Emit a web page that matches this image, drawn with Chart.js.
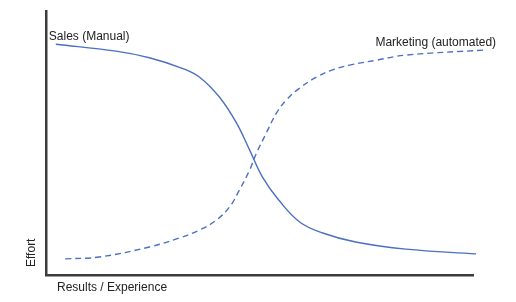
<!DOCTYPE html>
<html lang="en">
<head>
  <meta charset="UTF-8">
  <title>Sales vs Marketing Effort</title>
  <script src="https://cdn.jsdelivr.net/npm/chart.js"></script>
  <style>
    body {
      margin: 0;
      background: #fff;
    }
    .container {
      width: 516px;
      height: 302px;
    }
  </style>
</head>
<body>
  <div class="container">
    <canvas id="effortChart"></canvas>
  </div>

  <script>
    // results / experience (x) vs effort (y), both on a 0-100 scale
    const salesX = [2.3, 16.4, 24.2, 31.9, 35.9, 40.6, 44.6, 47.7, 50.7, 54.5, 59.4, 64.8, 72.5, 84.3, 100.7];
    const salesY = [87.4, 84.8, 82.3, 78.3, 75.0, 67.4, 57.6, 47.3, 37.1, 28.4, 20.1, 15.9, 12.5, 9.8, 8.0];
    const marketingX = [4.5, 12.4, 24.2, 31.2, 35.9, 39.9, 43.0, 45.3, 47.7, 49.3, 51.6, 54.0, 56.3, 59.4, 63.4, 67.1, 71.1, 77.5, 84.3, 102.6];
    const marketingY = [6.1, 6.8, 10.6, 14.0, 17.0, 20.8, 25.8, 32.2, 39.8, 46.2, 53.8, 61.4, 66.3, 70.8, 75.0, 77.7, 79.5, 81.4, 83.3, 85.2];

    const salesLabel = 'Sales (Manual)';
    const marketingLabel = 'Marketing (automated)';
    const xTitle = 'Results / Experience';
    const yTitle = 'Effort';

    const toPoints = (xs, ys) => xs.map((x, i) => ({ x: x, y: ys[i] }));

    const lineColor = '#4a70c0';
    const textFont = '12px "Liberation Sans", Arial, sans-serif';

    // curve labels and axis titles drawn as text next to the axes
    const textPlugin = {
      id: 'curveText',
      afterDraw(chart) {
        const { ctx, chartArea } = chart;
        ctx.save();
        ctx.font = textFont;
        ctx.fillStyle = '#222';
        ctx.textBaseline = 'middle';
        ctx.textAlign = 'left';

        const s = chart.getDatasetMeta(0).data[0];
        ctx.fillText(salesLabel, s.x - 7, s.y - 8);

        const m = chart.getDatasetMeta(1).data;
        const mLast = m[m.length - 1];
        ctx.textAlign = 'right';
        ctx.fillText(marketingLabel, mLast.x + 12, mLast.y - 7);

        ctx.textAlign = 'left';
        ctx.fillText(xTitle, chartArea.left + 11, chartArea.bottom + 13);

        ctx.translate(chartArea.left - 14, chartArea.bottom - 8);
        ctx.rotate(-Math.PI / 2);
        ctx.fillText(yTitle, 0, 0);
        ctx.restore();
      }
    };

    const ctx = document.getElementById('effortChart').getContext('2d');
    new Chart(ctx, {
      type: 'line',
      data: {
        datasets: [
          {
            label: salesLabel,
            data: toPoints(salesX, salesY),
            borderColor: lineColor,
            borderWidth: 1.4,
            pointRadius: 0,
            tension: 0.4,
            clip: false
          },
          {
            label: marketingLabel,
            data: toPoints(marketingX, marketingY),
            borderColor: lineColor,
            borderWidth: 1.4,
            borderDash: [6, 4],
            pointRadius: 0,
            tension: 0.4,
            clip: false
          }
        ]
      },
      options: {
        responsive: true,
        maintainAspectRatio: false,
        animation: false,
        layout: {
          padding: { left: 46, top: 11, right: 43, bottom: 27 }
        },
        plugins: {
          legend: { display: false },
          tooltip: { enabled: false }
        },
        scales: {
          x: {
            type: 'linear',
            min: 0,
            max: 100,
            ticks: { display: false },
            grid: { display: false, drawTicks: false },
            border: { display: true, color: '#3c3c3c', width: 2.5 }
          },
          y: {
            min: 0,
            max: 100,
            ticks: { display: false },
            grid: { display: false, drawTicks: false },
            border: { display: true, color: '#3c3c3c', width: 2.5 }
          }
        }
      },
      plugins: [textPlugin]
    });
  </script>
</body>
</html>
